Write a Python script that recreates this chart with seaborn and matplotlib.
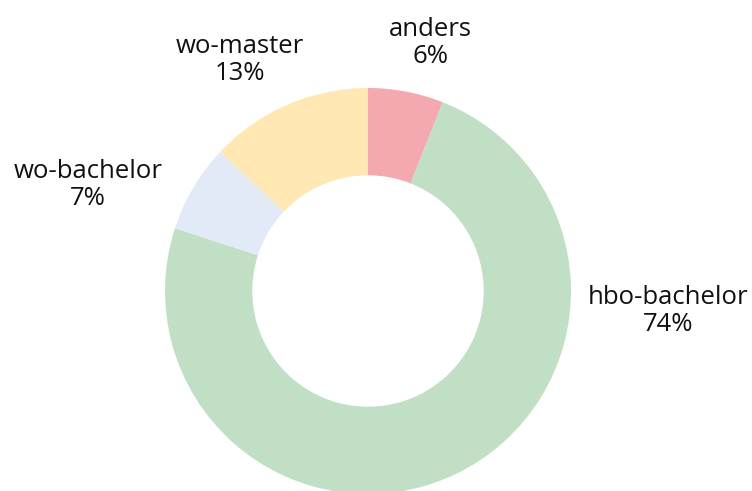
import matplotlib.pyplot as plt
import seaborn as sns

# ----------------------------
# Data
# ----------------------------

categories = ["anders", "hbo-bachelor", "wo-bachelor", "wo-master"]
shares = [6, 74, 7, 13]
colors = ["#F4A9B0", "#C1DFC4", "#E3EAF7", "#FFE8B3"]

# label anchor points (pixel coords, y from top)
label_pos = {
    "anders": (430, 43),
    "hbo-bachelor": (668, 311),
    "wo-bachelor": (88, 185),
    "wo-master": (240, 60),
}

# ----------------------------
# Plot
# ----------------------------

sns.set_theme(style="white")
plt.rcParams['font.family'] = ['Open Sans', 'DejaVu Sans']

W, H = 752, 491
fig = plt.figure(figsize=(W / 100, H / 100), dpi=100)
ax = fig.add_axes([0, 0, 1, 1])

ax.pie(
    shares,
    colors=colors,
    startangle=90,
    counterclock=False,
    center=(368, H - 291),
    radius=203,
    wedgeprops=dict(width=203 * 0.43, linewidth=0),
    frame=True,
)

for cat, val in zip(categories, shares):
    x, y = label_pos[cat]
    ax.text(x, H - y, f"{cat}\n{val}%", ha="center", va="center",
            fontsize=18.5, color="#111111", linespacing=1.1)

ax.set_xlim(0, W)
ax.set_ylim(0, H)
ax.set_aspect("equal")
ax.axis("off")

plt.savefig("out.png", dpi=100)
plt.close()
